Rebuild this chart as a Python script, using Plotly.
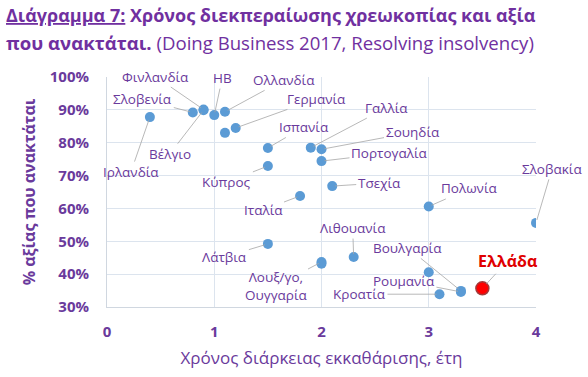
import plotly.graph_objects as go

# Data: (country label, time in years, recovery rate %)
countries = ["Ιρλανδία", "Σλοβενία", "Φινλανδία", "Βέλγιο", "ΗΒ", "Ολλανδία", "Αυστρία",
             "Γερμανία", "Ισπανία", "Κύπρος", "Γαλλία", "Σουηδία", "Πορτογαλία", "Ιταλία",
             "Τσεχία", "Λάτβια", "Λουξ/γο", "Ουγγαρία", "Λιθουανία", "Πολωνία", "Εσθονία",
             "Κροατία", "Βουλγαρία", "Ρουμανία", "Σλοβακία"]
years = [0.4, 0.8, 0.9, 0.9, 1.0, 1.1, 1.1,
         1.2, 1.5, 1.5, 1.9, 2.0, 2.0, 1.8,
         2.1, 1.5, 2.0, 2.0, 2.3, 3.0, 3.0,
         3.1, 3.3, 3.3, 4.0]
recovery = [87.8, 89.2, 90.1, 89.9, 88.4, 89.4, 83.0,
            84.5, 78.4, 72.9, 78.5, 78.0, 74.4, 63.8,
            66.8, 49.2, 43.7, 43.2, 45.2, 60.6, 40.6,
            33.9, 34.9, 34.6, 55.6]

greece_label = "Ελλάδα"
greece_year = [3.5]
greece_recovery = [35.7]

x_ticks = [0, 1, 2, 3, 4]
y_ticks = [0.3, 0.4, 0.5, 0.6, 0.7, 0.8, 0.9, 1.0]

# label text and pixel offset of label from its point (layout only)
label_text = {"Ιρλανδία": "Ιρλανδία", "Σλοβενία": "Σλοβενία", "Φινλανδία": "Φινλανδία",
              "Βέλγιο": "Βέλγιο", "ΗΒ": "ΗΒ", "Ολλανδία": "Ολλανδία", "Γερμανία": "Γερμανία",
              "Ισπανία": "Ισπανία", "Κύπρος": "Κύπρος", "Γαλλία": "Γαλλία", "Σουηδία": "Σουηδία",
              "Πορτογαλία": "Πορτογαλία", "Ιταλία": "Ιταλία", "Τσεχία": "Τσεχία",
              "Λάτβια": "Λάτβια", "Λουξ/γο": "Λουξ/γο,<br>Ουγγαρία", "Λιθουανία": "Λιθουανία",
              "Πολωνία": "Πολωνία", "Κροατία": "Κροατία", "Βουλγαρία": "Βουλγαρία",
              "Ρουμανία": "Ρουμανία", "Σλοβακία": "Σλοβακία"}
label_offset = {"Ιρλανδία": (-19, 55), "Σλοβενία": (-50, -13), "Φινλανδία": (-48, -33),
                "Βέλγιο": (-34, 44), "ΗΒ": (8, -37), "Ολλανδία": (59, -32), "Γερμανία": (81, -29),
                "Ισπανία": (36, -21), "Κύπρος": (-41, 16), "Γαλλία": (76, -40), "Σουηδία": (91, -17),
                "Πορτογαλία": (68, -8), "Ιταλία": (-37, 14), "Τσεχία": (47, -3), "Λάτβια": (-43, 13),
                "Λουξ/γο": (-46, 24), "Λιθουανία": (-1, -29), "Πολωνία": (41, -18),
                "Κροατία": (-80, 0), "Βουλγαρία": (-53, -43), "Ρουμανία": (-57, -11),
                "Σλοβακία": (16, -54)}

purple = "#6A3A9C"
title_purple = "#7030A0"
font_family = "Open Sans, Noto Sans, sans-serif"

fig = go.Figure()
fig.add_trace(go.Scatter(
    x=years, y=[v / 100 for v in recovery], mode="markers",
    marker=dict(color="#5B9BD5", size=10, line=dict(width=0)),
    text=countries, hoverinfo="text", showlegend=False))
fig.add_trace(go.Scatter(
    x=greece_year, y=[v / 100 for v in greece_recovery], mode="markers",
    marker=dict(color="#FF0000", size=13, line=dict(width=1.5, color="#A33A3A")),
    text=[greece_label], hoverinfo="text", showlegend=False))

annotations = []
for c, xv, yv in zip(countries, years, recovery):
    if c not in label_text:
        continue
    dx, dy = label_offset[c]
    annotations.append(dict(
        x=xv, y=yv / 100, xref="x", yref="y", text=label_text[c],
        showarrow=True, arrowhead=0, arrowwidth=0.8, arrowcolor="#A6A6A6",
        ax=dx, ay=dy, standoff=3, font=dict(size=13.5, color=purple, family=font_family)))
annotations.append(dict(
    x=greece_year[0], y=greece_recovery[0] / 100, xref="x", yref="y",
    text="<b>" + greece_label + "</b>", showarrow=True, arrowhead=0, arrowwidth=0.8,
    arrowcolor="#A6A6A6", ax=25, ay=-27, standoff=6,
    font=dict(size=16, color="#E00000", family=font_family)))

# title as two annotation lines
annotations.append(dict(
    x=-0.240, y=1.269, xref="paper", yref="paper", xanchor="left", yanchor="middle",
    showarrow=False,
    text="<b><u>Διάγραμμα 7:</u> Χρόνος διεκπεραίωσης χρεωκοπίας και αξία</b>",
    font=dict(size=18, color=title_purple, family=font_family)))
annotations.append(dict(
    x=-0.240, y=1.150, xref="paper", yref="paper", xanchor="left", yanchor="middle",
    showarrow=False,
    text="<b>που ανακτάται.</b> (Doing Business 2017, Resolving insolvency)",
    font=dict(size=18.6, color=title_purple, family=font_family)))

fig.update_layout(
    width=588, height=377,
    margin=dict(l=107, r=52, t=77, b=66),
    paper_bgcolor="white", plot_bgcolor="white",
    font=dict(family=font_family, color=purple),
    xaxis=dict(range=[0, 4], tickvals=x_ticks, showgrid=True, gridcolor="#DCE4EE",
               showline=True, linecolor="#D0D7E0", zeroline=False, ticks="",
               ticklabelstandoff=11,
               tickfont=dict(size=15, color=purple, family=font_family, weight="bold"),
               title=dict(text="Χρόνος διάρκειας εκκαθάρισης, έτη",
                          font=dict(size=17, color=purple, family=font_family), standoff=12)),
    yaxis=dict(range=[0.3, 1.0], tickvals=y_ticks, tickformat=".0%", showgrid=True,
               gridcolor="#DCE4EE", showline=True, linecolor="#D0D7E0", zeroline=False,
               ticks="", ticklabelstandoff=14,
               tickfont=dict(size=15, color=purple, family=font_family, weight="bold"),
               title=dict(text="<b>% αξίας που ανακτάται</b>",
                          font=dict(size=16, color=purple, family=font_family), standoff=10)),
    annotations=annotations,
)
fig.write_html("out.html", config={"displayModeBar": False},
               post_script="document.body.style.margin='0px';")
